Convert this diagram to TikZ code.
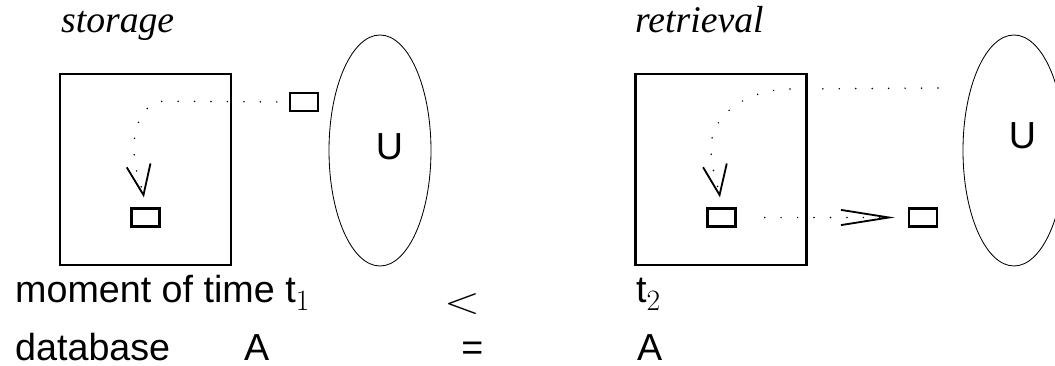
\RequirePackage{fix-cm}
\documentclass[tikz,border=0pt]{standalone}
\usepackage[no-math]{fontspec}
\setmainfont{Liberation Sans}
\newfontfamily\titlefont{Liberation Serif}
\newfontfamily\digitfont{Latin Modern Roman}
\usetikzlibrary{arrows.meta,shapes.geometric}
\newcommand{\lowidx}[1]{\raisebox{-5pt}{\fontsize{21}{21}\selectfont\digitfont #1}}

\begin{document}
\begin{tikzpicture}[line width=1.7pt,
    txt/.style={inner sep=0pt,anchor=base west,font=\fontsize{26.8}{32}\selectfont},
    dbbox/.style={draw,minimum width=4.275cm,minimum height=4.775cm},
    item/.style={draw,minimum width=0.7cm,minimum height=0.45cm,inner sep=0pt},
    users/.style={draw,ellipse,line width=0.6pt,minimum width=2.55cm,minimum height=5.775cm},
    flow/.style={line width=1.2pt,line cap=round,dash pattern=on 0pt off 11.7pt},
    vtip/.style={-{Straight Barb[length=0.75cm,width=0.6cm,line width=1.3pt]}},
    htip/.style={-{Straight Barb[length=1.2cm,width=0.38cm,line width=1.3pt]}}]
  \useasboundingbox (0,0) rectangle (26.375,9.15);
  % storage
  \node[txt] (storage) at (1.5,8.325) {\titlefont\itshape storage};
  \node[dbbox] (dbL) at (3.6375,4.9125) {};
  \node[item] (inL) at (3.6375,3.7125) {};
  \node[item] (outL) at (7.6,6.6) {};
  \node[users] (ellL) at (9.5,5.3875) {};
  \node[txt,anchor=center] (uL) at (9.7375,5.4875) {U};
  \draw[flow,vtip,shorten <=0.3cm,shorten >=0.25cm] (outL.west) -- (4.1,6.62)
    .. controls (3.65,6.62) and (3.35,6.1) .. (3.35,5.45)
    .. controls (3.35,4.85) and (3.55,4.5) .. (inL.north);
  % retrieval
  \node[txt] (retrieval) at (15.85,8.325) {\titlefont\itshape retrieval};
  \node[dbbox] (dbR) at (18.025,4.9125) {};
  \node[item] (inR) at (18.0375,3.7125) {};
  \node[item] (outR) at (23.075,3.7125) {};
  \node[users] (ellR) at (25.35,5.3875) {};
  \node[txt,anchor=center] (uR) at (25.5625,5.7625) {U};
  \coordinate (srcR) at (23.45,6.95);
  \draw[flow,vtip,shorten >=0.25cm] (srcR) -- (19.8,6.925)
    .. controls (18.675,6.925) and (17.775,6.275) .. (17.775,5.475)
    .. controls (17.775,4.9) and (17.95,4.525) .. (inR.north);
  \draw[flow,htip,shorten <=0.7cm,shorten >=0.325cm] (inR.east) -- (outR.west);
  % bottom lines
  \node[txt] (momL) at (0.35,1.575) {moment of time t\lowidx{1}};
  \node[txt] (dbnameL) at (0.35,0.14) {database};
  \node[txt] (aL) at (6.075,0.14) {A};
  \node[txt,anchor=center,xscale=1.25,transform shape] (less) at (11.55,1.56) {$<$};
  \node[txt,anchor=center] (equal) at (11.81,0.38) {=};
  \node[txt] (momR) at (15.875,1.575) {t\lowidx{2}};
  \node[txt] (aR) at (15.9,0.14) {A};
\end{tikzpicture}
\end{document}
